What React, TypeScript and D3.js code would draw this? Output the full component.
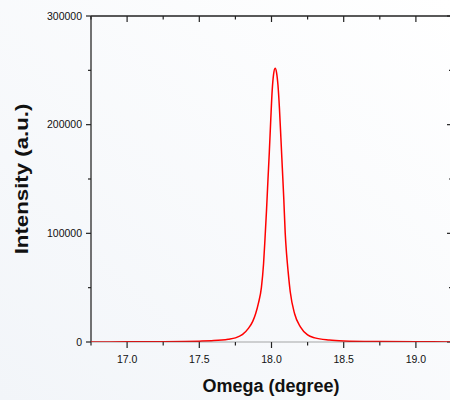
import React from "react";
import * as d3 from "d3";

const omega = [16.75, 17.0, 17.25, 17.4, 17.5, 17.6, 17.7, 17.75, 17.8, 17.84, 17.87, 17.89, 17.91, 17.93, 17.945, 17.955, 17.965, 17.975, 17.985, 17.995, 18.005, 18.015, 18.025, 18.035, 18.045, 18.055, 18.065, 18.075, 18.085, 18.095, 18.105, 18.115, 18.13, 18.16, 18.2, 18.25, 18.3, 18.4, 18.5, 18.75, 19.0, 19.25];
const intensity = [0, 150, 300, 550, 800, 1300, 2600, 3800, 7000, 12500, 19000, 26000, 36000, 50000, 72000, 95000, 120000, 148000, 175000, 205000, 232000, 247000, 252000, 248000, 236000, 215000, 188000, 160000, 132000, 100000, 80000, 65000, 46000, 26000, 14000, 6500, 3800, 1800, 1000, 400, 200, 100];

const xMajor = [17.0, 17.5, 18.0, 18.5, 19.0];
const xMinor = [16.75, 17.25, 17.75, 18.25, 18.75, 19.25];
const yMajor = [0, 100000, 200000, 300000];
const yMinor = [50000, 150000, 250000];

const W = 450, H = 400;
const L = 91, R = 452, T = 16, B = 342;

export default function App() {
  const x = d3.scaleLinear().domain([16.75, 19.25]).range([L, R]);
  const y = d3.scaleLinear().domain([0, 300000]).range([B, T]);
  const pts: [number, number][] = omega.map((o, i) => [o, intensity[i]]);
  const line = d3.line<[number, number]>().x(d => x(d[0])).y(d => y(d[1])).curve(d3.curveMonotoneX);
  const font = "'Liberation Sans', Arial, sans-serif";
  const axisColor = "#444";
  return (
    <svg width={W} height={H} style={{ position: "fixed", left: 0, top: 0 }} fontFamily={font}>
      <defs>
        <linearGradient id="bg" x1="1" y1="0" x2="0" y2="1">
          <stop offset="0" stopColor="#ffffff" />
          <stop offset="1" stopColor="#f2f5f9" />
        </linearGradient>
        <clipPath id="plot"><rect x={L} y={T} width={R - L} height={B - T} /></clipPath>
      </defs>
      <rect width={W} height={H} fill="url(#bg)" />
      {/* frame */}
      <line x1={L} x2={R} y1={T} y2={T} stroke="#222" strokeWidth={1.5} />
      <line x1={L} x2={L} y1={T} y2={B} stroke={axisColor} strokeWidth={1.5} />
      {/* bottom ticks */}
      {xMajor.map(v => (
        <g key={"bx" + v}>
          <line x1={x(v)} x2={x(v)} y1={B} y2={B + 6} stroke="#222" strokeWidth={1.2} />
          <line x1={x(v)} x2={x(v)} y1={T} y2={T + 6} stroke="#222" strokeWidth={1.2} />
          <text x={x(v)} y={363} fontSize={10.5} textAnchor="middle" fill="#111">{v.toFixed(1)}</text>
        </g>
      ))}
      {xMinor.map(v => (
        <g key={"mx" + v}>
          <line x1={x(v)} x2={x(v)} y1={B} y2={B + 3.5} stroke="#222" strokeWidth={1.2} />
          <line x1={x(v)} x2={x(v)} y1={T} y2={T + 3.5} stroke="#222" strokeWidth={1.2} />
        </g>
      ))}
      {yMajor.map(v => (
        <g key={"by" + v}>
          <line x1={L - 5} x2={L} y1={y(v)} y2={y(v)} stroke="#222" strokeWidth={1.2} />
          <line x1={R - 5} x2={R} y1={y(v)} y2={y(v)} stroke="#222" strokeWidth={1.2} />
          <text x={82} y={y(v)} dy="0.35em" fontSize={10.5} textAnchor="end" fill="#111">{v}</text>
        </g>
      ))}
      {yMinor.map(v => (
        <g key={"my" + v}>
          <line x1={L - 3} x2={L} y1={y(v)} y2={y(v)} stroke="#222" strokeWidth={1.2} />
          <line x1={R - 3} x2={R} y1={y(v)} y2={y(v)} stroke="#222" strokeWidth={1.2} />
        </g>
      ))}
      {/* data */}
      <path d={line(pts) || ""} fill="none" stroke="#ff0000" strokeWidth={1.5} clipPath="url(#plot)" />
      <line x1={L} x2={R} y1={B} y2={B} stroke="#555" strokeWidth={1.2} opacity={0.5} />
      {/* titles */}
      <text x={271} y={392} fontSize={18} fontWeight="bold" textAnchor="middle" fill="#111">Omega (degree)</text>
      <text transform="translate(27.5,179) rotate(-90) scale(1.27,1)" fontSize={17.5} fontWeight="bold" textAnchor="middle" fill="#111">Intensity (a.u.)</text>
    </svg>
  );
}
